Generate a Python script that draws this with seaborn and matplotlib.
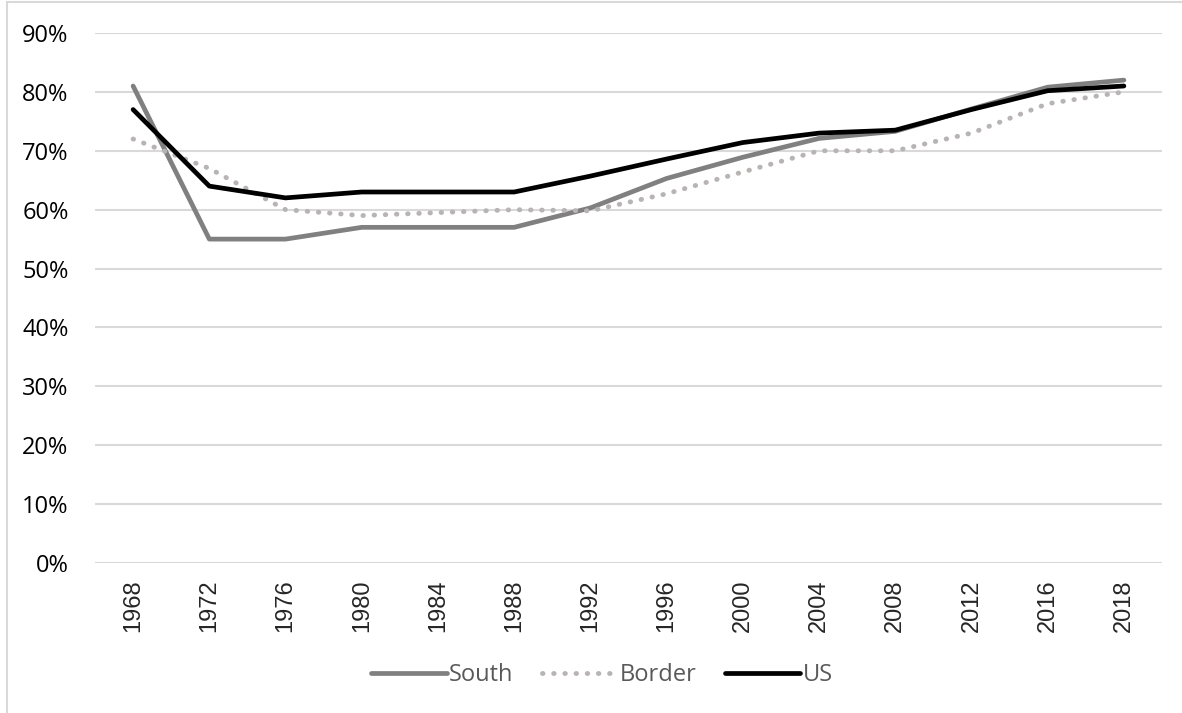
import matplotlib
matplotlib.use('Agg')
import matplotlib.pyplot as plt
import numpy as np
import pandas as pd
import seaborn as sns
from matplotlib.patches import Rectangle


# Data
years = ['1968', '1972', '1976', '1980', '1984', '1988', '1992',
         '1996', '2000', '2004', '2008', '2012', '2016', '2018']
south = [81, 55, 55, 57, 57, 57, 60.3, 65.3, 68.9, 72.1, 73.3, 77.1, 80.8, 82]
border = [72, 67, 60, 59, 59.5, 60, 59.8, 62.7, 66.4, 70, 70, 73, 78, 80]
us = [77, 64, 62, 63, 63, 63, 65.7, 68.6, 71.4, 73, 73.5, 77, 80.2, 81]
yticks = np.arange(0, 91, 10)

df = pd.DataFrame({'year': years, 'pos': range(len(years)),
                   'South': np.array(south) / 100,
                   'Border': np.array(border) / 100,
                   'US': np.array(us) / 100})

sns.set_theme(style='white')
plt.rcParams['font.family'] = ['Open Sans', 'DejaVu Sans']

fig = plt.figure(figsize=(11.82, 7.13), dpi=100)
ax = fig.add_axes([95 / 1182, 1 - 563 / 713, (1162 - 95) / 1182, 530 / 713])

styles = {
    'South': dict(color='#808080', linestyle='-', linewidth=3.4),
    'Border': dict(color='#b8b4b4', linestyle=(0, (0.1, 2.2)),
                   linewidth=3.5, dash_capstyle='round'),
    'US': dict(color='#000000', linestyle='-', linewidth=3.4),
}
for name in ['South', 'Border', 'US']:
    sns.lineplot(data=df, x='pos', y=name, ax=ax, label=name,
                 solid_capstyle='round', **styles[name])

ax.set_xlim(-0.5, len(years) - 0.5)
ax.set_ylim(0, 0.9)
ax.set_yticks(yticks / 100)
ax.set_yticklabels(['{}%'.format(v) for v in yticks], fontsize=17,
                   color='#000000')
ax.set_xticks(df['pos'])
ax.set_xticklabels(years, rotation=90, fontsize=17,
                   family=['Liberation Sans', 'DejaVu Sans'])
ax.tick_params(axis='y', length=0, pad=19)
ax.tick_params(axis='x', length=0, pad=12)
ax.set_xlabel('')
ax.set_ylabel('')
ax.grid(axis='y', color='#d9d9d9', linewidth=1.5)
ax.set_axisbelow(True)
for s in ax.spines.values():
    s.set_visible(False)

handles, labels = ax.get_legend_handles_labels()
ax.get_legend().remove()
leg = fig.legend(handles, labels, loc='center', ncol=3, frameon=False,
                 bbox_to_anchor=(602 / 1182, 1 - 675 / 713), fontsize=17,
                 handlelength=3.2, columnspacing=1.2, handletextpad=0.1)
for t in leg.get_texts():
    t.set_color('#595959')

# chart frame (left and top edges only visible)
fig.patches.append(Rectangle((7 / 1182, -0.1), 1.2, 1 - 2 / 713 + 0.1,
                             transform=fig.transFigure, fill=False,
                             edgecolor='#d9d9d9', linewidth=1.5))

fig.savefig('out.png', dpi=100)
